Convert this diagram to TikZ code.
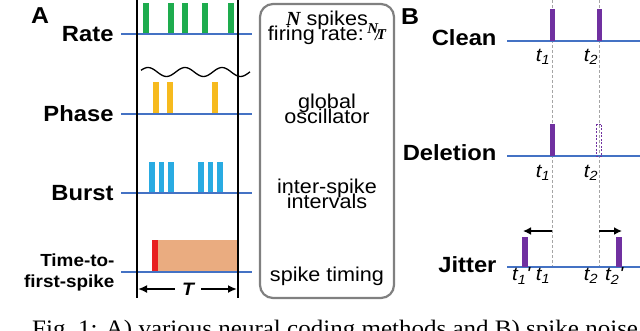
\documentclass[tikz,border=0pt]{standalone}
\usepackage{fontspec}
\setmainfont{Liberation Sans}[FakeStretch=1.08]
\newfontfamily\capfont{Liberation Serif}[FakeStretch=1.06]
\newfontfamily\timesbi{Liberation Serif}[UprightFont=*/BI]
\usepackage{tikz}
\usetikzlibrary{arrows.meta,positioning}
\definecolor{lineblue}{RGB}{68,114,196}
\definecolor{spkgreen}{RGB}{30,172,78}
\definecolor{spkyellow}{RGB}{246,186,30}
\definecolor{spkcyan}{RGB}{41,171,226}
\definecolor{spkred}{RGB}{232,32,32}
\definecolor{ttfsfill}{RGB}{234,172,128}
\definecolor{spkpurple}{RGB}{112,48,160}
\definecolor{boxgray}{RGB}{128,128,128}
\definecolor{dashgray}{RGB}{165,165,165}
\newcommand{\setfs}[2]{\fontsize{#1bp}{#2bp}\selectfont\lineskiplimit=-100bp}
\newcommand{\nperT}{{\timesbi\setfs{15}{15}\raisebox{7bp}{N}\kern-3bp/\kern-2.5bp\raisebox{0.5bp}{T}}}

\begin{document}
\begin{tikzpicture}[x=1bp,y=-1bp,
    rowlabel/.style={font={\bfseries\setfs{22}{24}}, anchor=east},
    panel/.style={font={\bfseries\setfs{23}{24}}},
    base/.style={draw=lineblue, line width=1.5bp},
    window/.style={draw=black, line width=2bp},
    boxtext/.style={font={\setfs{20}{15}}, align=center, anchor=base},
    tlabel/.style={font={\itshape\setfs{19}{20}}},
    period/.style={-{Latex[length=9bp,width=8bp]}, line width=2.5bp, shorten >=1bp},
    jitarrow/.style={-{Latex[length=8bp,width=8bp]}, line width=2.5bp}]
  \useasboundingbox (0,0) rectangle (640,330);
  \clip (0,0) rectangle (640,330);

  % Panel A: coding methods
  \node[panel] (pA) at (40,16) {A};
  \node[rowlabel] (rate) at (117,34) {Rate};
  \node[rowlabel] (phase) at (117,114) {Phase};
  \node[rowlabel] (burst) at (117,193) {Burst};
  \node[anchor=east, align=right, font={\bfseries\setfs{17.5}{21}}] (ttfs) at (118,272) {Time-to-\\first-spike};

  % Spikes
  \foreach \x in {143,168,182,202,228}
    \fill[spkgreen] (\x,3) rectangle ++(6,31);
  \draw[line width=1.3bp, domain=141:250, samples=60, smooth]
    plot (\x,{72-4.5*cos(9.73*(\x-148))});
  \foreach \x in {153,167,212}
    \fill[spkyellow] (\x,82) rectangle ++(6,32);
  \foreach \x in {149,158.5,168,198,207.5,217}
    \fill[spkcyan] (\x,162) rectangle ++(5.5,31);
  \fill[ttfsfill] (158,240) rectangle (237,272);
  \fill[spkred] (152,240) rectangle (158,272);

  % Baselines
  \foreach \y/\n in {34/r,114/p,193/b,272/t} {
    \coordinate (\n L) at (121,\y);
    \coordinate (\n R) at (252,\y);
    \draw[base] (\n L) -- (\n R);
  }

  % Time window
  \coordinate (wl0) at (137,0);
  \coordinate (wl1) at (137,298);
  \coordinate (wr0) at (238,0);
  \coordinate (wr1) at (238,298);
  \draw[window] (wl0) -- (wl1);
  \draw[window] (wr0) -- (wr1);
  \node[font={\bfseries\itshape\setfs{18}{18}}, inner sep=7bp] (per) at (188,289) {T};
  \draw[period] (per.west) -- (per.west -| wl1);
  \draw[period] (per.east) -- (per.east -| wr1);

  % Descriptions
  \draw[boxgray, line width=2.2bp, rounded corners=13bp] (260,4) rectangle (394,298);
  \node[boxtext] (dsc1) at (327,40) {{\timesbi N} spikes\\firing rate:\,\nperT};
  \node[boxtext] (dsc2) at (327,123) {global\\oscillator};
  \node[boxtext] (dsc3) at (327,208) {inter-spike\\intervals};
  \node[boxtext] (dsc4) at (327,281) {spike timing};

  % Panel B: spike noise
  \node[panel] (pB) at (410,17) {B};
  \coordinate (d1top) at (552,0);
  \coordinate (d1bot) at (552,267);
  \coordinate (d2top) at (599,0);
  \coordinate (d2bot) at (599,267);
  \draw[dashgray, line width=1bp, dash pattern=on 3bp off 2bp] (d1top) -- (d1bot);
  \draw[dashgray, line width=1bp, dash pattern=on 3bp off 2bp] (d2top) -- (d2bot);

  \node[rowlabel] (clean) at (500,38) {Clean};
  \node[rowlabel] (del) at (500,153) {Deletion};
  \node[rowlabel] (jit) at (500,265) {Jitter};
  \foreach \y/\n in {41/c,156/d,267/j} {
    \coordinate (\n L) at (507,\y);
    \coordinate (\n R) at (640,\y);
    \draw[base] (\n L) -- (\n R);
  }
  \fill[spkpurple] (549.5,9) rectangle (554.5,41);
  \fill[spkpurple] (596.5,9) rectangle (601.5,41);
  \fill[spkpurple] (549.5,124) rectangle (554.5,156);
  \draw[spkpurple, line width=0.9bp, dash pattern=on 2bp off 1.5bp] (596.5,124) rectangle (601.5,156);
  \fill[spkpurple] (522,237) rectangle (527.5,267);
  \fill[spkpurple] (616,237) rectangle (621.5,267);
  \coordinate (j1) at (523,231);
  \coordinate (j2) at (622,231);
  \draw[jitarrow] (d1bot |- j1) -- (j1);
  \draw[jitarrow] (d2bot |- j2) -- (j2);

  % Spike times
  \node[tlabel] (ct1) at (543,57) {t\textsubscript{1}};
  \node[tlabel] (ct2) at (591,57) {t\textsubscript{2}};
  \node[tlabel] (dt1) at (543,173) {t\textsubscript{1}};
  \node[tlabel] (dt2) at (591,173) {t\textsubscript{2}};
  \node[tlabel] (jt1p) at (521,276) {t\textsubscript{1}\textquotesingle};
  \node[tlabel] (jt1) at (543,276) {t\textsubscript{1}};
  \node[tlabel] (jt2) at (591,276) {t\textsubscript{2}};
  \node[tlabel] (jt2p) at (614,276) {t\textsubscript{2}\textquotesingle};

  % Caption
  \node[anchor=base west, font={\capfont\setfs{23.6}{25}}, inner sep=0pt] (cap) at (32,336) {Fig.~1: A) various neural coding methods and B) spike noise};
\end{tikzpicture}
\end{document}
